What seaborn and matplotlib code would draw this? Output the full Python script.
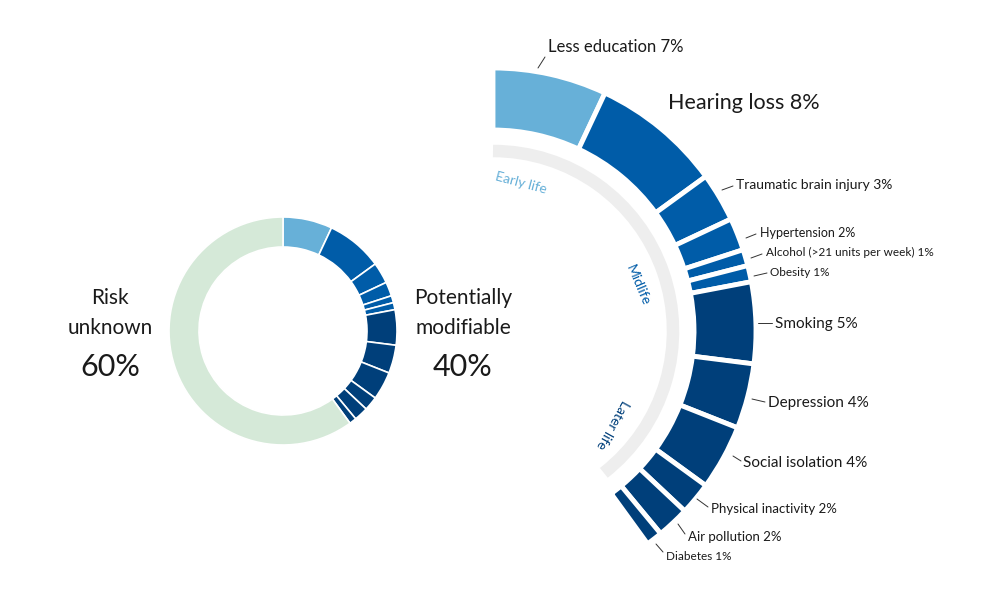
import matplotlib
matplotlib.use("Agg")
import matplotlib.pyplot as plt
from matplotlib.patches import Wedge, Arc
import seaborn as sns

sns.set_theme(style="white", font="Lato")

categories = ["Less education", "Hearing loss", "Traumatic brain injury", "Hypertension",
              "Alcohol (>21 units per week)", "Obesity", "Smoking", "Depression",
              "Social isolation", "Physical inactivity", "Air pollution", "Diabetes"]
values = [7, 8, 3, 2, 1, 1, 5, 4, 4, 2, 2, 1]
stages = ["early", "mid", "mid", "mid", "mid", "mid", "late", "late", "late", "late", "late", "late"]
unknown_share = 60
modifiable_share = 40

stage_colors = {"early": "#67b0d8", "mid": "#005ca8", "late": "#003f7a"}
H = 605
fig = plt.figure(figsize=(9.96, 6.05), dpi=100)
ax = fig.add_axes([0, 0, 1, 1])
ax.set_xlim(0, 996); ax.set_ylim(0, H); ax.axis("off")

def Y(py): return H - py

# small donut
cx, cy = 283, Y(331)
ang = 90.0
deg = 3.6
for v, s in zip(values, stages):
    a2 = ang - v * deg
    ax.add_patch(Wedge((cx, cy), 114, a2, ang, width=30, facecolor=stage_colors[s], edgecolor="white", lw=1.2))
    ang = a2
ax.add_patch(Wedge((cx, cy), 114, 90, ang, width=30, facecolor="#d5e9d8", edgecolor="white", lw=1.2))

# big arc
bx, by = 493, Y(331)
ang = 90.0
for v, s in zip(values, stages):
    a2 = ang - v * deg
    ax.add_patch(Wedge((bx, by), 263, a2, ang, width=62, facecolor=stage_colors[s], edgecolor="white", lw=3.5))
    ang = a2
ax.add_patch(Arc((bx, by), 360, 360, theta1=-52, theta2=90, color="#eeeeee", lw=9))
ax.text(521, Y(183), "Early life", color="#67b0d8", fontsize=10, rotation=-15, ha="center", va="center")
ax.text(638, Y(285), "Midlife", color="#005ca8", fontsize=10, rotation=-67, ha="center", va="center")
ax.text(612, Y(424), "Later life", color="#003f7a", fontsize=10, rotation=-119, ha="center", va="center")

labels = [
    ("Less education 7%", 548, 47, 12, (545, 57), (538, 68)),
    ("Hearing loss 8%", 668, 103, 15.5, None, None),
    ("Traumatic brain injury 3%", 736, 185, 10, (733, 186), (722, 190)),
    ("Hypertension 2%", 760, 233, 9, (756, 234), (746, 238)),
    ("Alcohol (>21 units per week) 1%", 766, 252, 8.5, (762, 254), (751, 258)),
    ("Obesity 1%", 770, 272, 8.5, (767, 273), (754, 276)),
    ("Smoking 5%", 775, 324, 11, (772, 323), (758, 323)),
    ("Depression 4%", 768, 403, 11, (765, 402), (752, 399)),
    ("Social isolation 4%", 743, 463, 11, (741, 461), (733, 456)),
    ("Physical inactivity 2%", 711, 509, 9.5, (708, 507), (697, 499)),
    ("Air pollution 2%", 688, 537, 9.5, (685, 534), (678, 524)),
    ("Diabetes 1%", 666, 556, 8.5, (663, 552), (656, 544)),
]
for t, x, y, fs, p1, p2 in labels:
    ax.text(x, Y(y), t, fontsize=fs, ha="left", va="center", color="#1a1a1a")
    if p1:
        ax.plot([p1[0], p2[0]], [Y(p1[1]), Y(p2[1])], color="#333333", lw=0.7)

ax.text(110, Y(298), "Risk", fontsize=15, ha="center", va="center", color="#1a1a1a")
ax.text(110, Y(328), "unknown", fontsize=15, ha="center", va="center", color="#1a1a1a")
ax.text(110, Y(367), f"{unknown_share}%", fontsize=22, ha="center", va="center", color="#1a1a1a")
ax.text(463, Y(298), "Potentially", fontsize=15, ha="center", va="center", color="#1a1a1a")
ax.text(463, Y(328), "modifiable", fontsize=15, ha="center", va="center", color="#1a1a1a")
ax.text(463, Y(367), f"{modifiable_share}%", fontsize=22, ha="center", va="center", color="#1a1a1a")

fig.savefig("out.png", dpi=100, facecolor="white")
